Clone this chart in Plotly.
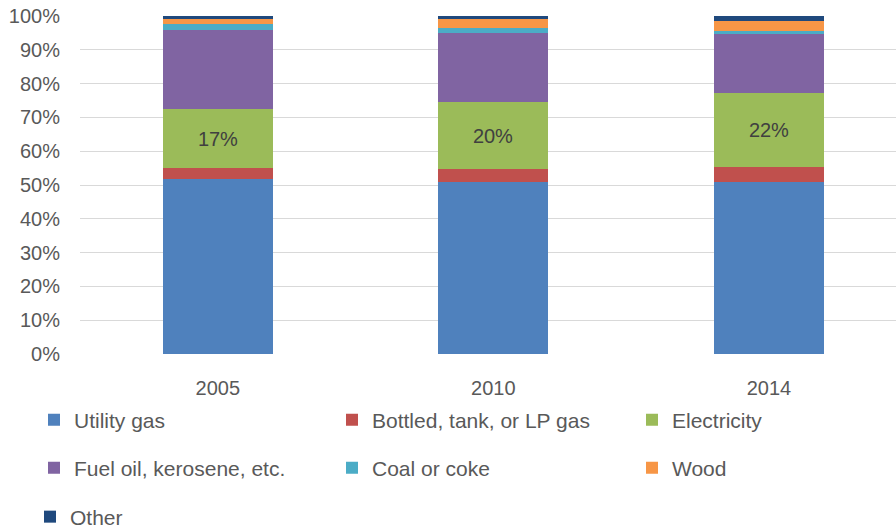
import plotly.graph_objects as go

years = ["2005", "2010", "2014"]
series_names = ["Utility gas", "Bottled, tank, or LP gas", "Electricity",
                "Fuel oil, kerosene, etc.", "Coal or coke", "Wood", "Other"]
utility_gas = [51.8, 50.9, 51.0]
bottled_gas = [3.3, 3.8, 4.3]
electricity = [17.3, 20.0, 21.9]
fuel_oil = [23.5, 20.2, 17.4]
coal_coke = [1.6, 1.5, 1.0]
wood = [1.6, 2.7, 3.0]
other = [0.9, 0.9, 1.4]
electricity_labels = ["17%", "20%", "22%"]

series_values = [utility_gas, bottled_gas, electricity, fuel_oil, coal_coke, wood, other]
colors = ["#4F81BD", "#C0504D", "#9BBB59", "#8064A2", "#4BACC6", "#F79646", "#1F497D"]

# legend grid: (marker left x, row center y) in pixels
legend_cells = [(50, 420), (348, 420), (648, 420),
                (50, 468), (348, 468), (648, 468),
                (46, 517)]

FONT = "Liberation Sans, Arial, sans-serif"
GREY = "#595959"
W, H = 896, 531

fig = go.Figure()
xpos = list(range(len(years)))
layout_legends = {}
for i, (name, vals, col) in enumerate(zip(series_names, series_values, colors)):
    lg = "legend" if i == 0 else f"legend{i + 1}"
    kw = {}
    if name == "Electricity":
        kw = dict(text=electricity_labels, textposition="inside", insidetextanchor="middle",
                  textfont=dict(color="#404040", size=20, family=FONT), textangle=0)
    fig.add_trace(go.Bar(
        x=xpos, y=[v / 100 for v in vals], name=name, marker=dict(color=col, line=dict(width=0)),
        width=0.4, legend=lg, hoverinfo="name+y", **kw))
    mx, my = legend_cells[i]
    layout_legends[lg] = dict(
        orientation="h", xref="container", yref="container",
        x=(mx - 16) / W, y=1 - my / H, xanchor="left", yanchor="middle",
        font=dict(family=FONT, size=21, color=GREY),
        bgcolor="rgba(0,0,0,0)", borderwidth=0, itemclick=False)

fig.update_layout(
    width=W, height=H,
    margin=dict(l=80, r=0, t=16, b=177, autoexpand=False),
    paper_bgcolor="white", plot_bgcolor="white",
    barmode="stack", bargap=0,
    font=dict(family=FONT, size=20, color=GREY),
    showlegend=True,
    xaxis=dict(range=[-0.5, 2.461], tickmode="array", tickvals=xpos, ticktext=years,
               showgrid=False, zeroline=False, showline=False, ticks="",
               ticklabelstandoff=20, tickfont=dict(family=FONT, size=20, color=GREY)),
    yaxis=dict(range=[0, 1], tickformat=".0%", dtick=0.1, showgrid=True,
               gridcolor="#D9D9D9", gridwidth=1, zeroline=False, showline=False,
               ticks="", ticklabelstandoff=19,
               tickfont=dict(family=FONT, size=20, color=GREY)),
    **layout_legends,
)

fig.write_html("out.html", config={"displayModeBar": False},
               post_script="document.body.style.margin='0';document.body.style.overflow='hidden';")
